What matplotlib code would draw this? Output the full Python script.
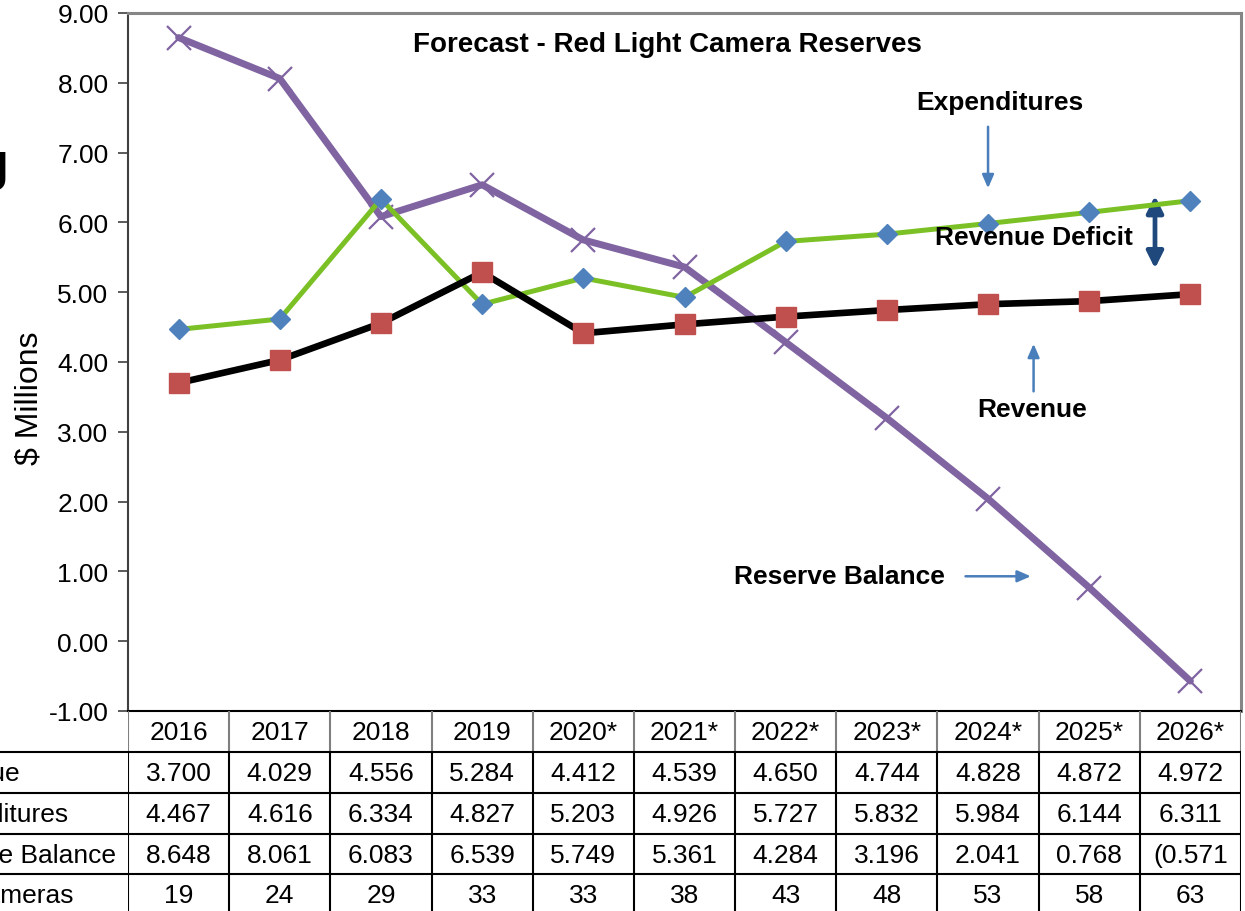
import matplotlib
matplotlib.use("Agg")
import matplotlib.pyplot as plt
from matplotlib.transforms import Bbox, TransformedBbox

plt.rcParams["font.family"] = ["Liberation Sans", "DejaVu Sans"]

years = ["2016", "2017", "2018", "2019", "2020*", "2021*", "2022*",
         "2023*", "2024*", "2025*", "2026*"]
revenue = [3.700, 4.029, 4.556, 5.284, 4.412, 4.539, 4.650, 4.744, 4.828, 4.872, 4.972]
expenditures = [4.467, 4.616, 6.334, 4.827, 5.203, 4.926, 5.727, 5.832, 5.984, 6.144, 6.311]
reserve = [8.648, 8.061, 6.083, 6.539, 5.749, 5.361, 4.284, 3.196, 2.041, 0.768, -0.571]
cameras = [19, 24, 29, 33, 33, 38, 43, 48, 53, 58, 63]
row_labels = ["Revenue", "Expenditures", "Reserve Balance", "# of Cameras"]

W, H = 1245, 912
fig = plt.figure(figsize=(W / 100, H / 100), dpi=100)

# plot area in pixel terms
x0, x1, y_top, y_axis = 128, 1241, 14, 712
ax = fig.add_axes([x0 / W, 1 - y_axis / H, (x1 - x0) / W, (y_axis - y_top) / H])
xs = list(range(len(years)))

ax.plot(xs, reserve, color="#8064A2", lw=5.0, marker="x", ms=17, mew=1.6,
        solid_capstyle="round", zorder=3)
ax.plot(xs, expenditures, color="#7BC125", lw=3.6, marker="D", ms=10.5,
        mfc="#4F81BD", mec="#4F81BD", zorder=4)
ax.plot(xs, revenue, color="black", lw=4.8, marker="s", ms=14,
        mfc="#C0504D", mec="#C0504D", zorder=4)

ax.set_xlim(-0.5, 10.5)
ax.set_ylim(-1, 9)
ax.set_yticks(range(-1, 10))
ax.set_yticklabels([f"{v:.2f}" for v in range(-1, 10)], fontsize=19)
ax.set_xticks([])
ax.tick_params(axis="y", length=7, width=1.2, color="#404040", pad=7)
for side in ("top", "right"):
    ax.spines[side].set_color("#868686")
    ax.spines[side].set_linewidth(2.2)
ax.spines["left"].set_color("#404040")
ax.spines["left"].set_linewidth(1.5)
ax.spines["bottom"].set_color("black")
ax.spines["bottom"].set_linewidth(1.5)

fig.text(29 / W, 1 - 398 / H, "$ Millions", rotation=90, ha="center",
         va="center", fontsize=23)

fig.text(667 / W, 1 - 45 / H, "Forecast - Red Light Camera Reserves",
         ha="center", va="center", fontsize=20, weight="bold")

bold = dict(fontsize=19, weight="bold", ha="center", va="center", zorder=6)
ax.text(8.12, 7.72, "Expenditures", **bold)
ax.text(8.45, 5.79, "Revenue Deficit", **bold)
ax.text(8.44, 3.33, "Revenue", **bold)
ax.text(6.53, 0.93, "Reserve Balance", **bold)

thin = dict(arrowstyle="-|>,head_length=0.8,head_width=0.35", color="#4A7EBB", lw=1.8)
ax.annotate("", xy=(8.0, 6.45), xytext=(8.0, 7.41), arrowprops=thin)
ax.annotate("", xy=(8.45, 4.30), xytext=(8.45, 3.54), arrowprops=thin)
ax.annotate("", xy=(8.45, 0.93), xytext=(7.75, 0.93), arrowprops=thin)
ax.annotate("", xy=(9.65, 5.30), xytext=(9.65, 6.42),
            arrowprops=dict(arrowstyle="<|-|>,head_length=1.0,head_width=0.5",
                            color="#1F497D", lw=3.4))

# data table under the chart, same column scale as the plot
ax_t = fig.add_axes([x0 / W, 0, (x1 - x0) / W, (H - y_axis) / H])
ax_t.set_xlim(-0.5, 10.5)
ax_t.set_ylim(H - y_axis, 0)
ax_t.axis("off")

row_edges = [0, 41, 82, 123, 163, 204]
col_edges = [i - 0.5 for i in range(len(years) + 1)]
ax_t.vlines(col_edges, row_edges[0], row_edges[1], color="#7f7f7f", lw=1.5)
ax_t.vlines(col_edges, row_edges[1], row_edges[-1], color="black", lw=1.5)
ax_t.hlines(row_edges[1:], -3.5, 10.5, color="black", lw=1.5, clip_on=False)

mid = [(a + b) / 2 for a, b in zip(row_edges[:-1], row_edges[1:])]
cell = dict(fontsize=19, ha="center", va="center")
rows = [[f"{v:.3f}" for v in revenue],
        [f"{v:.3f}" for v in expenditures],
        [f"{v:.3f}" if v >= 0 else f"({abs(v):.3f})" for v in reserve],
        [str(v) for v in cameras]]
for i, yr in enumerate(years):
    ax_t.text(i, mid[0] + 1, yr, **cell)
    for r, vals in enumerate(rows):
        txt = vals[i]
        if txt.startswith("("):
            # too wide for the cell: starts near the left edge, cut at the right
            t = ax_t.text(i - 0.37, mid[r + 1] + 1, txt, fontsize=19,
                          ha="left", va="center")
            cut = Bbox([[i - 0.5, row_edges[r + 1]], [i + 0.36, row_edges[r + 2]]])
            t.set_clip_path(None)
            t.set_clip_box(TransformedBbox(cut, ax_t.transData))
            t.set_clip_on(True)
        else:
            ax_t.text(i, mid[r + 1] + 1, txt, **cell)
for r, lab in enumerate(row_labels):
    ax_t.text(-2.61, mid[r + 1] + 1, lab, fontsize=19, ha="left", va="center",
              clip_on=False)

fig.text(9 / W, 1 - 180 / H, "g", ha="right", va="baseline", fontsize=39,
         weight="bold")

fig.savefig("out.png", dpi=100)
